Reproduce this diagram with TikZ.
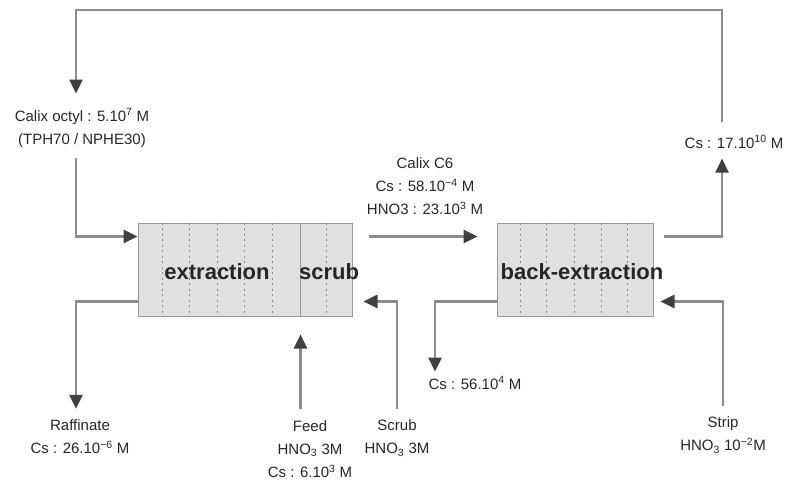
\documentclass[tikz,border=0pt]{standalone}
\usepackage{fontspec}
\setmainfont{Liberation Sans}
\usetikzlibrary{arrows.meta, positioning, calc}

\begin{document}
\begin{tikzpicture}[x=1pt, y=-1pt,
    stage/.style={draw=black!40, fill=black!12, line width=1pt, inner sep=0pt, minimum height=93pt},
    cell/.style={black!45, line width=1pt, dash pattern=on 2pt off 3.5pt},
    flow/.style={black!45, line width=2.6pt, -{Triangle[length=14pt, width=13pt, color=black!75]}},
    tag/.style={font=\fontsize{15}{23}\selectfont, text=black!85, align=center, inner sep=1pt},
    big/.style={font=\fontsize{22}{24}\selectfont\bfseries, text=black!85, inner sep=0pt}]
  \useasboundingbox (0,0) rectangle (788,482);

  % mixer-settler banks
  \node[stage, minimum width=162pt] (ext) at (219,269.5) {};
  \node[stage, minimum width=52pt] (scr) at (326,269.5) {};
  \node[stage, minimum width=156pt] (back) at (575,269.5) {};
  \foreach \dx in {25,52,80,107,135}
    \draw[cell] ([xshift=\dx pt]ext.north west) -- ([xshift=\dx pt]ext.south west);
  \draw[cell] (scr.north) -- (scr.south);
  \foreach \dx in {24,50,78,105,131}
    \draw[cell] ([xshift=\dx pt]back.north west) -- ([xshift=\dx pt]back.south west);
  \node[big] (extlbl) at (217,272) {extraction};
  \node[big] (scrlbl) at (329,272) {scrub};
  \node[big] (backlbl) at (582,272) {back-extraction};

  % stream labels
  \node[tag] (calix) at (82,128) {Calix octyl : 5.10\textsuperscript{7} M\\(TPH70 / NPHE30)};
  \node[tag] (mid) at (425,186) {Calix C6\\Cs : 58.10\textsuperscript{−4} M\\HNO3 : 23.10\textsuperscript{3} M};
  \node[tag] (csout) at (734,142) {Cs : 17.10\textsuperscript{10} M};
  \node[tag] (raff) at (80,437) {Raffinate\\Cs : 26.10\textsuperscript{−6} M};
  \node[tag] (feed) at (310,449) {Feed\\HNO\textsubscript{3} 3M\\Cs : 6.10\textsuperscript{3} M};
  \node[tag] (scrin) at (397,438) {Scrub\\HNO\textsubscript{3} 3M};
  \node[tag] (strip) at (723,435) {Strip\\HNO\textsubscript{3} 10\textsuperscript{−2}M};
  \node[tag] (cs56) at (475,383) {Cs : 56.10\textsuperscript{4} M};

  \coordinate (lt) at (76,10);
  \coordinate (rt) at (722,10);

  % streams
  \draw[flow] ([shift={(16pt,-14pt)}]scr.north east) -- ([shift={(-19pt,-14pt)}]back.north west);
  \draw[flow, shorten >=9pt] ([shift={(10pt,-14pt)}]back.north east) -| (csout.south -| rt);
  \draw[flow, shorten <=12pt, shorten >=14pt] (csout.north -| rt) -- (rt) -- (lt) -- (calix.north -| lt);
  \draw[flow, shorten <=10pt] (calix.south -| lt) |- ([yshift=-14pt]ext.north west);
  \draw[flow, shorten >=10pt] ([yshift=15pt]ext.south west) -| (raff.north -| lt);
  \draw[flow, shorten <=10pt, shorten >=18pt] (feed.north -| ext.south east) -- (ext.south east);
  \draw[flow, shorten <=10pt, shorten >=11pt] (scrin.north) |- ([yshift=15pt]scr.south east);
  \draw[flow, shorten <=10pt, shorten >=7pt] (strip.north) |- ([yshift=15pt]back.south east);
  \draw[flow, shorten >=4pt] ([yshift=15pt]back.south west) -| ([xshift=-40pt]cs56.north);
\end{tikzpicture}
\end{document}
